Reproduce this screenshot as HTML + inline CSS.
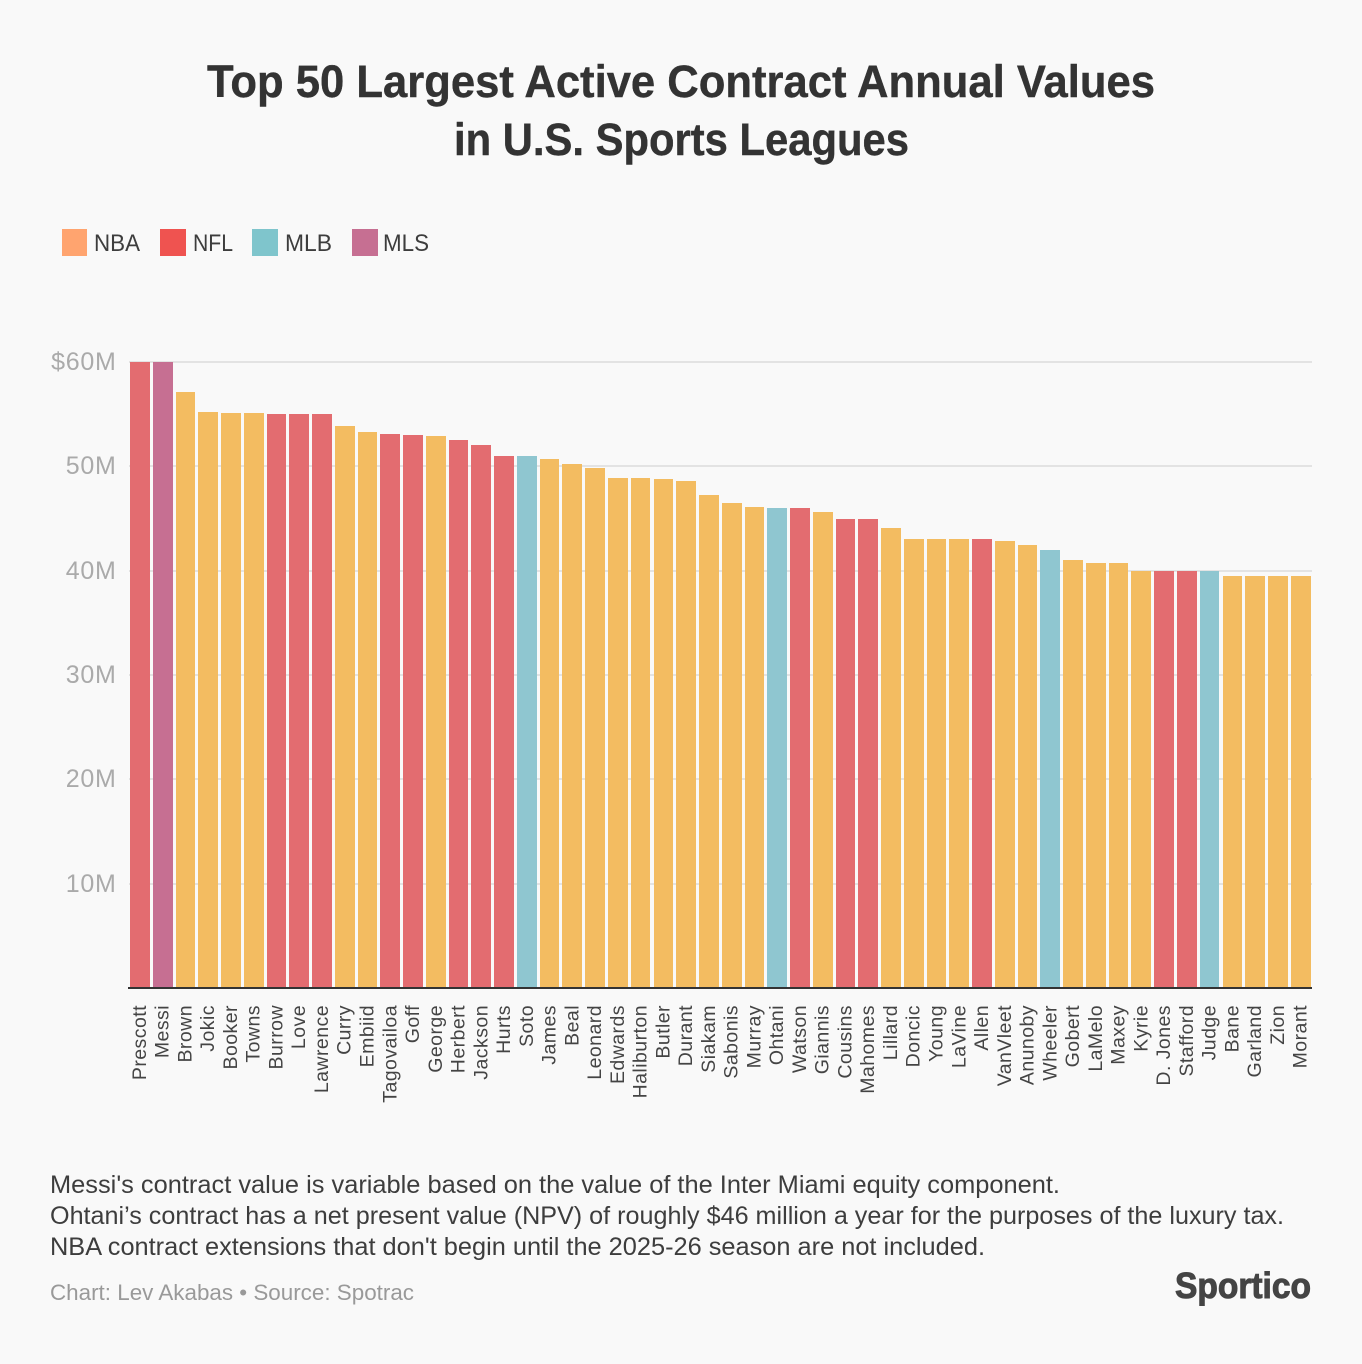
<!DOCTYPE html>
<html lang="en">
<head>
<meta charset="utf-8">
<title>Top 50 Largest Active Contract Annual Values in U.S. Sports Leagues</title>
<style>
html,body{margin:0;padding:0;background:#f9f9f9;width:1362px;height:1364px;overflow:hidden}
svg{display:block}
text{font-family:"Liberation Sans",sans-serif}
</style>
</head>
<body>
<svg id="chart" xmlns="http://www.w3.org/2000/svg" width="1362" height="1364" viewBox="0 0 1362 1364">
  <rect x="0" y="0" width="1362" height="1364" fill="#f9f9f9"/>
  <g font-weight="700" font-size="45" fill="#333333" stroke="#333333" stroke-width="0.4">
    <text x="207" y="97" textLength="948" lengthAdjust="spacingAndGlyphs">Top 50 Largest Active Contract Annual Values</text>
    <text x="454" y="155" textLength="455" lengthAdjust="spacingAndGlyphs">in U.S. Sports Leagues</text>
  </g>
  <g font-size="24" fill="#3d3d3d">
    <rect x="62" y="229" width="25" height="27" fill="#ffa46f"/>
    <text x="94" y="251" textLength="46" lengthAdjust="spacingAndGlyphs">NBA</text>
    <rect x="160" y="229" width="26" height="27" fill="#ef5350"/>
    <text x="193" y="251" textLength="40" lengthAdjust="spacingAndGlyphs">NFL</text>
    <rect x="252" y="229" width="26" height="27" fill="#7fc5cc"/>
    <text x="285" y="251" textLength="47" lengthAdjust="spacingAndGlyphs">MLB</text>
    <rect x="352" y="229" width="26" height="27" fill="#c66f92"/>
    <text x="383" y="251" textLength="46" lengthAdjust="spacingAndGlyphs">MLS</text>
  </g>
  <g id="grid"></g>
  <g id="yticks"></g>
  <g id="bars"></g>
  <rect x="128" y="987" width="1184" height="2" fill="#333333"/>
  <g id="xlabels"></g>
  <g font-size="25" fill="#3d3d3d">
    <text x="50" y="1193" textLength="1010" lengthAdjust="spacingAndGlyphs">Messi's contract value is variable based on the value of the Inter Miami equity component.</text>
    <text x="50" y="1224" textLength="1234" lengthAdjust="spacingAndGlyphs">Ohtani’s contract has a net present value (NPV) of roughly $46 million a year for the purposes of the luxury tax.</text>
    <text x="50" y="1255" textLength="935" lengthAdjust="spacingAndGlyphs">NBA contract extensions that don't begin until the 2025-26 season are not included.</text>
  </g>
  <text x="50" y="1300" font-size="22" fill="#999999" textLength="364" lengthAdjust="spacingAndGlyphs">Chart: Lev Akabas • Source: Spotrac</text>
  <text x="1175" y="1298" font-size="36" font-weight="700" fill="#444444" stroke="#444444" stroke-width="1" textLength="136" lengthAdjust="spacingAndGlyphs">Sportico</text>
</svg>
<script>
const categories = ["Prescott","Messi","Brown","Jokic","Booker","Towns","Burrow","Love","Lawrence","Curry","Embiid","Tagovailoa","Goff","George","Herbert","Jackson","Hurts","Soto","James","Beal","Leonard","Edwards","Haliburton","Butler","Durant","Siakam","Sabonis","Murray","Ohtani","Watson","Giannis","Cousins","Mahomes","Lillard","Doncic","Young","LaVine","Allen","VanVleet","Anunoby","Wheeler","Gobert","LaMelo","Maxey","Kyrie","D. Jones","Stafford","Judge","Bane","Garland","Zion","Morant"];
const values = [60,60,57.1,55.2,55.1,55.1,55,55,55,53.87,53.3,53.1,53,52.9,52.5,52,51,51,50.7,50.2,49.85,48.9,48.9,48.8,48.6,47.25,46.5,46.1,46,46,45.6,45,45,44.1,43,43,43,43,42.8,42.5,42,41,40.7,40.7,40,40,40,40,39.5,39.5,39.5,39.5];
const leagues = ["NFL","MLS","NBA","NBA","NBA","NBA","NFL","NFL","NFL","NBA","NBA","NFL","NFL","NBA","NFL","NFL","NFL","MLB","NBA","NBA","NBA","NBA","NBA","NBA","NBA","NBA","NBA","NBA","MLB","NFL","NBA","NFL","NFL","NBA","NBA","NBA","NBA","NFL","NBA","NBA","MLB","NBA","NBA","NBA","NBA","NFL","NFL","MLB","NBA","NBA","NBA","NBA"];
const tickValues = [60,50,40,30,20,10];
const tickLabels = ["$60M","50M","40M","30M","20M","10M"];
const leagueNames = ["NBA","NFL","MLB","MLS"];
const leagueColors = ["#f3bc61","#e36c70","#8fc6d0","#c66f92"];

const NS = "http://www.w3.org/2000/svg";
const plotLeft = 130.05, plotTop = 362, plotBase = 988, domainMax = 60;
const plotRight = 1310.5;
const step = (plotRight - plotLeft) / (categories.length - 0.135);
const barWidth = 19.7;
function yScale(v) { return plotBase - v * (plotBase - plotTop) / domainMax; }
function xScale(i) { return plotLeft + i * step; }

const gridG = document.getElementById("grid");
const ytickG = document.getElementById("yticks");
tickValues.forEach(function (t, i) {
  const y = Math.round(yScale(t));
  const line = document.createElementNS(NS, "rect");
  line.setAttribute("x", 129);
  line.setAttribute("y", y - 1);
  line.setAttribute("width", 1183);
  line.setAttribute("height", 2);
  line.setAttribute("fill", "#e3e3e3");
  
  
  gridG.appendChild(line);
  const label = document.createElementNS(NS, "text");
  label.setAttribute("x", 116.5);
  label.setAttribute("y", y + 8);
  label.setAttribute("text-anchor", "end");
  label.setAttribute("font-size", "25");
  label.setAttribute("letter-spacing", "0.7");
  label.setAttribute("fill", "#aaaaaa");
  label.textContent = tickLabels[i];
  
  
  ytickG.appendChild(label);
});

const barG = document.getElementById("bars");
const xlabelG = document.getElementById("xlabels");
categories.forEach(function (name, i) {
  const x0 = Math.round(xScale(i));
  const x1 = Math.round(xScale(i) + barWidth);
  const top = Math.round(yScale(values[i]));
  const bar = document.createElementNS(NS, "rect");
  bar.setAttribute("x", x0);
  bar.setAttribute("y", top);
  bar.setAttribute("width", x1 - x0);
  bar.setAttribute("height", 987 - top);
  bar.setAttribute("fill", leagueColors[leagueNames.indexOf(leagues[i])]);
  
  
  barG.appendChild(bar);
  const cx = xScale(i) + barWidth / 2;
  const label = document.createElementNS(NS, "text");
  label.setAttribute("transform", "translate(" + (cx + 6) + ",1005) rotate(-90)");
  label.setAttribute("text-anchor", "end");
  label.setAttribute("font-size", "19.5");
  label.setAttribute("letter-spacing", "0.45");
  label.setAttribute("fill", "#444444");
  label.textContent = name;
  
  
  xlabelG.appendChild(label);
});
</script>
</body>
</html>
